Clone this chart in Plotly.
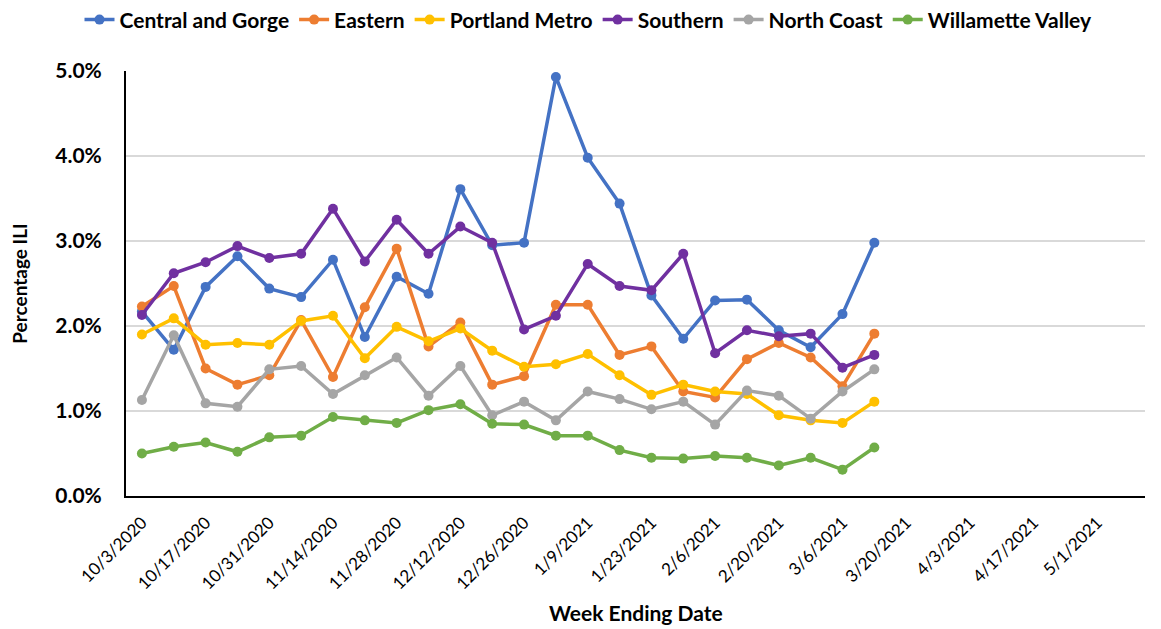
import plotly.graph_objects as go
import pandas as pd

weeks = pd.date_range("2020-10-03", periods=24, freq="7D")

central_gorge = [2.17, 1.72, 2.46, 2.82, 2.44, 2.34, 2.78, 1.87, 2.58, 2.38, 3.61, 2.95,
                 2.98, 4.93, 3.98, 3.44, 2.36, 1.85, 2.30, 2.31, 1.95, 1.75, 2.14, 2.98]
eastern = [2.23, 2.47, 1.50, 1.31, 1.42, 2.07, 1.40, 2.22, 2.91, 1.76, 2.04, 1.31,
           1.41, 2.25, 2.25, 1.66, 1.76, 1.23, 1.16, 1.61, 1.80, 1.63, 1.29, 1.91]
portland_metro = [1.90, 2.09, 1.78, 1.80, 1.78, 2.06, 2.12, 1.62, 1.99, 1.82, 1.97, 1.71,
                  1.52, 1.55, 1.67, 1.42, 1.19, 1.31, 1.23, 1.20, 0.95, 0.89, 0.86, 1.11]
southern = [2.13, 2.62, 2.75, 2.94, 2.80, 2.85, 3.38, 2.76, 3.25, 2.85, 3.17, 2.98,
            1.96, 2.12, 2.73, 2.47, 2.42, 2.85, 1.68, 1.95, 1.88, 1.91, 1.51, 1.66]
north_coast = [1.13, 1.89, 1.09, 1.05, 1.49, 1.53, 1.20, 1.42, 1.63, 1.18, 1.53, 0.95,
               1.11, 0.89, 1.23, 1.14, 1.02, 1.11, 0.84, 1.24, 1.18, 0.91, 1.23, 1.49]
willamette_valley = [0.50, 0.58, 0.63, 0.52, 0.69, 0.71, 0.93, 0.89, 0.86, 1.01, 1.08, 0.85,
                     0.84, 0.71, 0.71, 0.54, 0.45, 0.44, 0.47, 0.45, 0.36, 0.45, 0.31, 0.57]

series_names = ["Central and Gorge", "Eastern", "Portland Metro", "Southern", "North Coast", "Willamette Valley"]
series_values = [central_gorge, eastern, portland_metro, southern, north_coast, willamette_valley]
colors = ["#4472C4", "#ED7D31", "#FFC000", "#7030A0", "#A5A5A5", "#70AD47"]

tick_dates = pd.date_range("2020-10-03", "2021-05-01", freq="14D")
tick_labels = [f"{d.month}/{d.day}/{d.year}" for d in tick_dates]
y_ticks = [0, 1, 2, 3, 4, 5]
y_tick_labels = ["0.0%", "1.0%", "2.0%", "3.0%", "4.0%", "5.0%"]

FONT = "Lato, Open Sans, sans-serif"

fig = go.Figure()
for name, vals, col in zip(series_names, series_values, colors):
    fig.add_trace(go.Scatter(
        x=weeks, y=vals, name=name, mode="lines+markers",
        line=dict(color=col, width=3.5),
        marker=dict(color=col, size=10),
    ))

fig.update_layout(
    width=1161, height=629,
    margin=dict(l=118, r=24, t=63, b=141, autoexpand=False),
    plot_bgcolor="white", paper_bgcolor="white",
    font=dict(family=FONT, size=16, color="black"),
    legend=dict(orientation="h", x=0.5, xanchor="center", xref="container",
                y=0.981, yanchor="middle", yref="container",
                font=dict(size=21, family=FONT, color="black", weight="bold"),
                itemwidth=30, tracegroupgap=0),
    xaxis=dict(
        type="date",
        range=[pd.Timestamp("2020-10-03") - pd.Timedelta(days=3.5),
               pd.Timestamp("2021-05-08") + pd.Timedelta(days=3.5)],
        tickvals=tick_dates, ticktext=tick_labels, tickangle=-45,
        tickfont=dict(size=17, family=FONT),
        ticklabelstandoff=8,
        showgrid=False, showline=True, linecolor="black", linewidth=2,
        ticks="",
    ),
    yaxis=dict(
        range=[0, 5], tickvals=y_ticks, ticktext=y_tick_labels,
        tickfont=dict(size=21, family=FONT, weight="bold"),
        ticklabelstandoff=18,
        showgrid=True, gridcolor="#D9D9D9", gridwidth=1.5,
        showline=True, linecolor="black", linewidth=2, zeroline=False,
        ticks="", ticklen=0,
        title=dict(text="Percentage ILI", font=dict(size=19, weight="bold"), standoff=26),
    ),
    annotations=[dict(
        text="Week Ending Date", xref="paper", yref="paper", x=0.5, y=-0.275,
        xanchor="center", yanchor="middle", showarrow=False,
        font=dict(size=21, family=FONT, color="black", weight="bold"),
    )],
)

fig.write_html("out.html")
